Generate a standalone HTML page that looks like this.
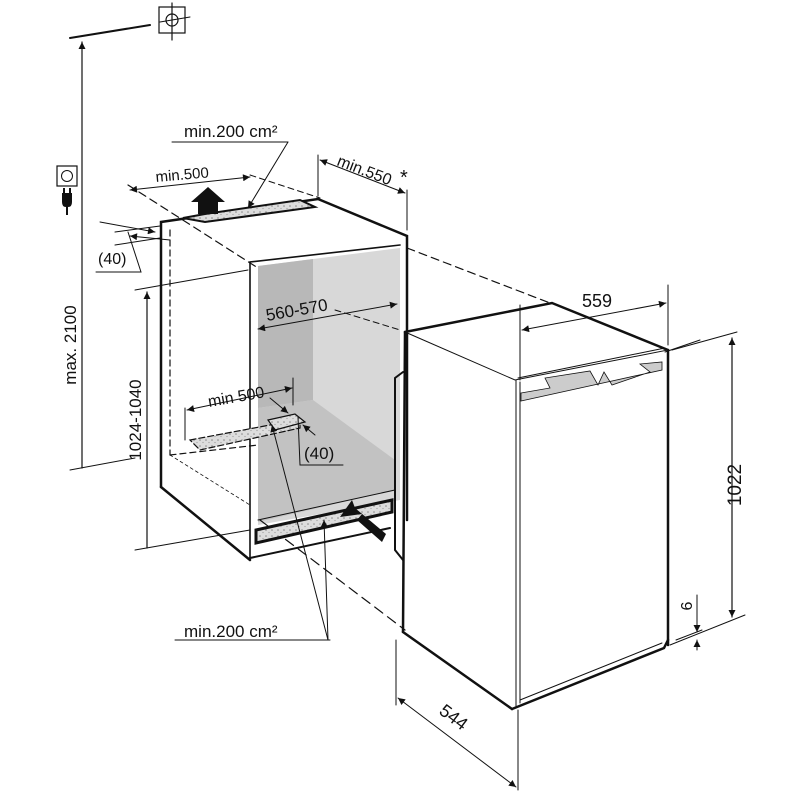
<!DOCTYPE html>
<html><head><meta charset="utf-8"><style>
html,body{margin:0;padding:0;background:#fff}
svg{display:block}
text{font-family:"Liberation Sans",sans-serif;fill:#111}
</style></head><body>
<svg width="800" height="800" viewBox="0 0 800 800" xmlns="http://www.w3.org/2000/svg">
<defs>
<marker id="a" viewBox="0 0 10 10" refX="10" refY="5" markerWidth="9" markerHeight="7" orient="auto-start-reverse" markerUnits="userSpaceOnUse"><path d="M0,0 L10,5 L0,10 z" fill="#111"/></marker>
<pattern id="dots" width="6" height="6" patternUnits="userSpaceOnUse"><rect width="6" height="6" fill="#ddd"/><circle cx="2" cy="2" r="0.8" fill="#888"/><circle cx="5" cy="4.5" r="0.6" fill="#999"/></pattern>
</defs>

<polygon points="258,266 400,248 400,500 258,525" fill="#d8d8d8"/>
<polygon points="258,266 313,259 313,400 258,408" fill="#b8b8b8"/>
<polygon points="258,408 313,400 395,460 395,490 258,522" fill="#c2c2c2"/>

<g fill="none" stroke="#111" stroke-linecap="round">
<polyline points="161,487 161,222 318,199 407,236 407,520" stroke-width="2.5"/>
<line x1="161" y1="487" x2="250" y2="560" stroke-width="2.5"/>
<polyline points="250,560 250,262 400,245" stroke-width="1.6"/>
<line x1="250" y1="558" x2="390" y2="528" stroke-width="2"/>
<polygon points="183,218 205,214 300,200 315,207 205,222" fill="url(#dots)" stroke-width="2"/>
<line x1="170" y1="230" x2="170" y2="455" stroke-dasharray="6,4" stroke-width="1.2"/>
<line x1="170" y1="455" x2="258" y2="445" stroke-dasharray="6,4" stroke-width="1.2"/>
<line x1="128" y1="185" x2="258" y2="268" stroke-dasharray="8,5" stroke-width="1.2"/>
<line x1="250" y1="175" x2="320" y2="198" stroke-dasharray="6,4" stroke-width="1"/>
<line x1="407" y1="248" x2="550" y2="303" stroke-dasharray="8,5" stroke-width="1.2"/>
<line x1="335" y1="310" x2="400" y2="330" stroke-dasharray="6,4" stroke-width="1"/>
<line x1="170" y1="455" x2="250" y2="505" stroke-dasharray="3,3" stroke-width="0.8"/>
<line x1="260" y1="520" x2="405" y2="630" stroke-dasharray="10,6" stroke-width="1.2"/>
<line x1="665" y1="352" x2="700" y2="340" stroke-width="1"/>
<polygon points="190,440 270,425 300,420 300,428 200,450" fill="url(#dots)" stroke-dasharray="6,3" stroke-width="1.2"/>
<polygon points="268,420 295,414 305,422 275,430" fill="url(#dots)" stroke-width="1.2"/>
<polygon points="256,530 392,500 392,512 256,543" fill="url(#dots)" stroke-width="3"/>
<line x1="258" y1="520" x2="395" y2="490" stroke-width="1"/>

<polygon points="405,332 552,303 668,350 515,380" fill="#fff" stroke-width="1"/>
<polyline points="405,332 552,303 668,350" stroke-width="2.5"/>
<line x1="405" y1="332" x2="403" y2="632" stroke-width="2.5"/>
<line x1="403" y1="632" x2="512" y2="709" stroke-width="2.5"/>
<line x1="668" y1="350" x2="668" y2="645" stroke-width="2.5"/>
<polyline points="512,709 664,648 668,640" stroke-width="2.5"/>
<line x1="516" y1="380" x2="516" y2="706" stroke-width="1"/>
<line x1="520" y1="382" x2="520" y2="703" stroke-width="1"/>
<line x1="518" y1="378" x2="665" y2="348" stroke-width="1"/>
<line x1="520" y1="700" x2="662" y2="643" stroke-width="1"/>
<polygon points="521,393 550,388 545,378 590,371 598,385 604,372 612,385 650,372 640,364 662,362 662,370 521,401" fill="#ccc" stroke-width="0.8"/>
<polyline points="403,372 395,378 395,550 403,560" stroke-width="2"/>

<line x1="70" y1="38" x2="150" y2="25" stroke-width="2"/>
<line x1="160" y1="22" x2="190" y2="17" stroke-width="1"/>
<line x1="82" y1="468" x2="82" y2="42" stroke-width="1.2" marker-end="url(#a)"/>
<line x1="70" y1="470" x2="135" y2="458" stroke-width="1"/>
<rect x="159" y="7" width="26" height="26" stroke-width="1.2"/>
<circle cx="172" cy="20" r="6" stroke-width="1.2"/>
<line x1="172" y1="3" x2="172" y2="40" stroke-width="1.2"/>
<rect x="57" y="166" width="20" height="20" stroke-width="1.2"/>
<circle cx="67" cy="176" r="5.5" stroke-width="1"/>
<line x1="135" y1="290" x2="248" y2="270" stroke-width="1"/>
<line x1="135" y1="550" x2="250" y2="530" stroke-width="1"/>
<line x1="147" y1="548" x2="147" y2="292" stroke-width="1.2" marker-end="url(#a)"/>
<line x1="100" y1="222" x2="155" y2="232" stroke-width="1" marker-end="url(#a)"/>
<line x1="115" y1="232" x2="160" y2="226" stroke-width="1"/>
<line x1="115" y1="245" x2="160" y2="238" stroke-width="1"/>
<line x1="170" y1="240" x2="130" y2="236" stroke-width="1" marker-end="url(#a)"/>
<polyline points="96,272 141,272 128,232" stroke-width="1"/>
<line x1="130" y1="190" x2="250" y2="177" stroke-width="1" marker-start="url(#a)" marker-end="url(#a)"/>
<line x1="172" y1="142" x2="288" y2="142" stroke-width="1"/>
<line x1="288" y1="142" x2="248" y2="208" stroke-width="1" marker-end="url(#a)"/>
<line x1="318" y1="155" x2="318" y2="196" stroke-width="1"/>
<line x1="407" y1="190" x2="407" y2="230" stroke-width="1"/>
<line x1="320" y1="160" x2="405" y2="193" stroke-width="1" marker-start="url(#a)" marker-end="url(#a)"/>
<line x1="258" y1="329" x2="397" y2="304" stroke-width="1" marker-start="url(#a)" marker-end="url(#a)"/>
<line x1="520" y1="305" x2="520" y2="380" stroke-width="1"/>
<line x1="668" y1="285" x2="668" y2="345" stroke-width="1"/>
<line x1="522" y1="330" x2="666" y2="303" stroke-width="1" marker-start="url(#a)" marker-end="url(#a)"/>
<line x1="672" y1="350" x2="737" y2="332" stroke-width="1"/>
<line x1="670" y1="645" x2="745" y2="615" stroke-width="1"/>
<line x1="732" y1="338" x2="732" y2="617" stroke-width="1.2" marker-start="url(#a)" marker-end="url(#a)"/>
<line x1="676" y1="640" x2="702" y2="630" stroke-width="1"/>
<line x1="697" y1="595" x2="697" y2="632" stroke-width="1" marker-end="url(#a)"/>
<line x1="697" y1="650" x2="697" y2="640" stroke-width="1" marker-end="url(#a)"/>
<line x1="396" y1="640" x2="396" y2="705" stroke-width="1"/>
<line x1="518" y1="710" x2="518" y2="790" stroke-width="1"/>
<line x1="398" y1="698" x2="516" y2="787" stroke-width="1" marker-start="url(#a)" marker-end="url(#a)"/>
<line x1="185" y1="408" x2="185" y2="440" stroke-width="1"/>
<line x1="293" y1="378" x2="293" y2="405" stroke-width="1"/>
<line x1="187" y1="410" x2="292" y2="388" stroke-width="1" marker-start="url(#a)" marker-end="url(#a)"/>
<line x1="270" y1="398" x2="288" y2="413" stroke-width="1" marker-end="url(#a)"/>
<line x1="315" y1="435" x2="303" y2="425" stroke-width="1" marker-end="url(#a)"/>
<polyline points="298,417 300,465 343,465" stroke-width="1"/>
<line x1="175" y1="640" x2="330" y2="640" stroke-width="1"/>
<line x1="328" y1="640" x2="272" y2="425" stroke-width="1" marker-end="url(#a)"/>
<line x1="328" y1="640" x2="324" y2="520" stroke-width="1" marker-end="url(#a)"/>
</g>
<polygon points="198,214 198,202 191,202 208,187 225,202 218,202 218,214" fill="#111"/>
<polygon points="382,542 357,520 362,514 340,517 352,500 355,508 386,534" fill="#111"/>
<path d="M62,193 h10 v9 q0,5 -4,5 v8 h-2 v-8 q-4,0 -4,-5 z" fill="#111"/>
<line x1="64" y1="188" x2="64" y2="193" stroke="#111" stroke-width="2"/>
<line x1="70" y1="188" x2="70" y2="193" stroke="#111" stroke-width="2"/>

<text x="184" y="137" font-size="17">min.200 cm²</text>
<text x="156" y="182" font-size="15" transform="rotate(-5 156 182)">min.500</text>
<text x="336" y="165" font-size="16" transform="rotate(21 336 165)">min.550</text>
<text x="400" y="184" font-size="20">*</text>
<text x="98" y="264" font-size="16">(40)</text>
<text x="267" y="321" font-size="17" transform="rotate(-10 267 321)">560-570</text>
<text x="582" y="307" font-size="18">559</text>
<text x="76" y="345" font-size="17" transform="rotate(-90 76 345)" text-anchor="middle">max. 2100</text>
<text x="141" y="420" font-size="17" transform="rotate(-90 141 420)" text-anchor="middle">1024-1040</text>
<text x="209" y="407" font-size="16" transform="rotate(-10 209 407)">min 500</text>
<text x="304" y="459" font-size="17">(40)</text>
<text x="184" y="637" font-size="17">min.200 cm²</text>
<text x="741" y="485" font-size="19" transform="rotate(-90 741 485)" text-anchor="middle">1022</text>
<text x="692" y="606" font-size="16" transform="rotate(-90 692 606)" text-anchor="middle">6</text>
<text x="438" y="713" font-size="18" transform="rotate(37 438 713)">544</text>
</svg>
</body></html>
